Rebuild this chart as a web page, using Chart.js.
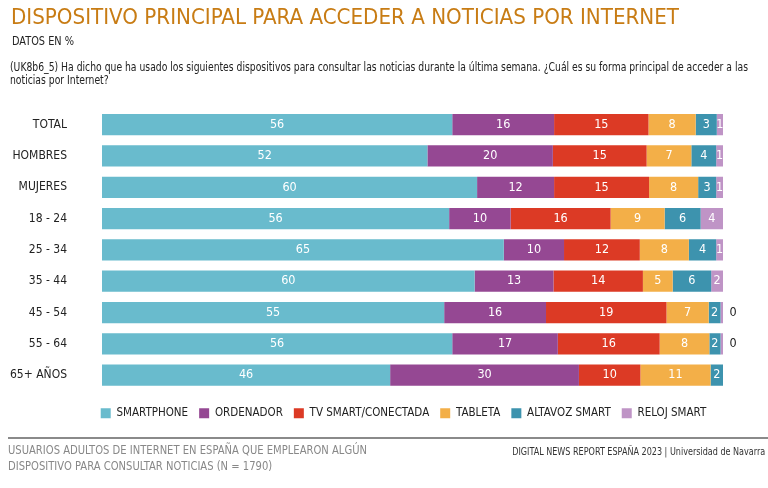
<!DOCTYPE html>
<html>
<head>
<meta charset="utf-8">
<script src="https://cdn.jsdelivr.net/npm/chart.js@4/dist/chart.umd.min.js"></script>
<style>
  html, body { margin: 0; padding: 0; background: #fff; }
  #wrap { position: relative; width: 768px; height: 488px; overflow: hidden;
          font-family: "DejaVu Sans Condensed", "Liberation Sans", sans-serif; }
  #chart { position: absolute; left: 0; top: 0; }
  .t { position: absolute; white-space: nowrap; transform-origin: 0 0; }
  #title { left: 11px; top: 6px; font-size: 22px; line-height: 22px; color: #c87c14; }
  #sub { left: 12px; top: 35px; font-size: 12px; line-height: 12px; color: #222; }
  #question { left: 10px; top: 61px; font-size: 12px; line-height: 12.5px; color: #222; }
  #rule { position: absolute; left: 8px; right: 0; top: 437px; height: 2px; background: #8a8a8a; }
  #foot { left: 8px; top: 443px; font-size: 12px; line-height: 15.5px; color: #888; }
  #source { right: 3px; top: 446px; font-size: 10.5px; line-height: 11px; color: #333; transform-origin: 100% 0; }
</style>
</head>
<body>
<div id="wrap">
  <canvas id="chart" width="768" height="488"></canvas>
  <div class="t" id="title" data-w="668"><span>DISPOSITIVO PRINCIPAL PARA ACCEDER A NOTICIAS POR INTERNET</span></div>
  <div class="t" id="sub" data-w="62"><span>DATOS EN %</span></div>
  <div class="t" id="question" data-w="738"><span>(UK8b6_5) Ha dicho que ha usado los siguientes dispositivos para consultar las noticias durante la última semana. ¿Cuál es su forma principal de acceder a las</span><br>noticias por Internet?</div>
  <div id="rule"></div>
  <div class="t" id="foot" data-w="359"><span>USUARIOS ADULTOS DE INTERNET EN ESPAÑA QUE EMPLEARON ALGÚN</span><br>DISPOSITIVO PARA CONSULTAR NOTICIAS (N = 1790)</div>
  <div class="t" id="source" data-w="253"><span>DIGITAL NEWS REPORT ESPAÑA 2023 | Universidad de Navarra</span></div>
</div>
<script>
const FONT = '"DejaVu Sans Condensed", "Liberation Sans", sans-serif';

// categorías (filas)
const CATEGORIES = ["TOTAL","HOMBRES","MUJERES","18 - 24","25 - 34","35 - 44","45 - 54","55 - 64","65+ AÑOS"];

// valores por dispositivo (%)
const SMARTPHONE = [56.4, 52.4, 60.4, 55.9, 64.7, 60.0, 55.1, 56.4, 46.4];
const ORDENADOR  = [16.4, 20.2, 12.4,  9.9,  9.7, 12.7, 16.4, 17.0, 30.4];
const TV_SMART   = [15.2, 15.1, 15.3, 16.1, 12.2, 14.4, 19.4, 16.4,  9.9];
const TABLETA    = [ 7.6,  7.2,  7.9,  8.7,  7.9,  4.8,  6.8,  8.0, 11.3];
const ALTAVOZ    = [ 3.4,  4.0,  2.9,  5.8,  4.4,  6.2,  1.9,  1.8,  2.0];
const RELOJ      = [ 1.0,  1.1,  1.1,  3.6,  1.1,  1.9,  0.4,  0.4,  0];

const SERIES = [
  { label: "SMARTPHONE",         data: SMARTPHONE, color: "#69bbcd" },
  { label: "ORDENADOR",          data: ORDENADOR,  color: "#954893" },
  { label: "TV SMART/CONECTADA", data: TV_SMART,   color: "#dc3a25" },
  { label: "TABLETA",            data: TABLETA,    color: "#f3af48" },
  { label: "ALTAVOZ SMART",      data: ALTAVOZ,    color: "#3d93ae" },
  { label: "RELOJ SMART",        data: RELOJ,      color: "#bf94c6" },
];

// ajusta el ancho de los textos (fuente condensada no disponible)
document.querySelectorAll("[data-w]").forEach(el => {
  const w = el.querySelector("span").getBoundingClientRect().width;
  el.style.transform = `scaleX(${(+el.dataset.w / w).toFixed(4)})`;
});

// etiquetas de valor dentro de cada tramo
const barLabels = {
  id: "barLabels",
  afterDatasetsDraw(chart) {
    const ctx = chart.ctx;
    ctx.save();
    ctx.font = `12.5px ${FONT}`;
    ctx.textBaseline = "middle";
    ctx.textAlign = "center";
    chart.data.datasets.forEach((ds, di) => {
      const meta = chart.getDatasetMeta(di);
      meta.data.forEach((bar, i) => {
        const v = ds.data[i];
        if (!v) return;
        const r = Math.round(v);
        if (r === 0) {
          ctx.fillStyle = "#222";
          ctx.fillText("0", chart.chartArea.right + 10, bar.y);
        } else {
          ctx.fillStyle = "#fff";
          ctx.fillText(String(r), (bar.x + bar.base) / 2, bar.y);
        }
      });
    });
    ctx.restore();
  }
};

// la leyenda va centrada bajo las barras, no bajo todo el lienzo
const legendShift = {
  id: "legendShift",
  afterLayout(chart) {
    chart.legend.left = 84;
    chart.legend.right = chart.chartArea.right;
  }
};

new Chart(document.getElementById("chart"), {
  type: "bar",
  data: {
    labels: CATEGORIES,
    datasets: SERIES.map(s => ({
      label: s.label,
      data: s.data,
      backgroundColor: s.color,
      borderWidth: 0,
      categoryPercentage: 0.68,
      barPercentage: 1,
    })),
  },
  options: {
    indexAxis: "y",
    responsive: false,
    animation: false,
    layout: { padding: { top: 109, left: 0, right: 45, bottom: 59 } },
    plugins: {
      legend: {
        position: "bottom",
        title: { display: true, text: "", font: { size: 1 }, padding: { top: 4.5, bottom: 0 } },
        labels: {
          font: { family: FONT, size: 11.5 },
          color: "#222",
          boxWidth: 10,
          boxHeight: 10,
          padding: 11,
        },
      },
      tooltip: { enabled: false },
    },
    scales: {
      x: { stacked: true, min: 0, max: 100, display: false },
      y: {
        stacked: true,
        grid: { display: false, drawTicks: false },
        border: { display: false },
        ticks: { font: { family: FONT, size: 12 }, color: "#222", padding: 35 },
        afterFit: (s) => { s.width = 102; },
      },
    },
  },
  plugins: [barLabels, legendShift],
});
</script>
</body>
</html>
